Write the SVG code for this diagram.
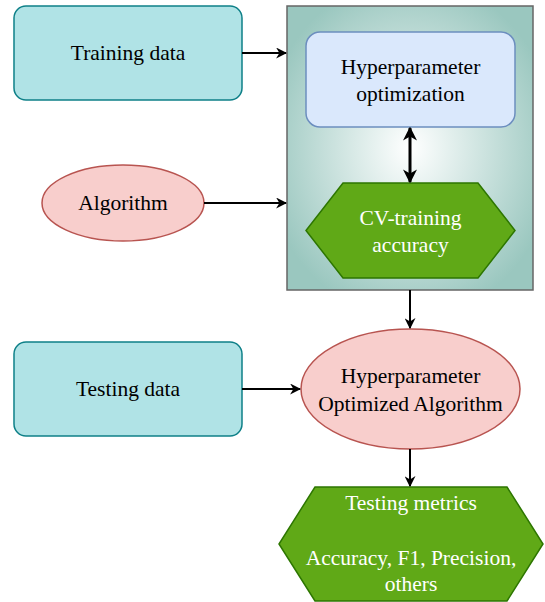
<svg xmlns="http://www.w3.org/2000/svg" width="545" height="602" viewBox="0 0 545 602">
<defs>
<radialGradient id="bg" cx="50%" cy="50%" r="60%">
<stop offset="0" stop-color="#ffffff"/>
<stop offset="1" stop-color="#9ac7bf"/>
</radialGradient>
<marker id="ah" viewBox="0 0 10 10" refX="9" refY="5" markerWidth="11" markerHeight="11" markerUnits="userSpaceOnUse" orient="auto-start-reverse">
<path d="M0,0 L10,5 L0,10 L3,5 Z" fill="#000"/>
</marker>
<marker id="ah2" viewBox="0 0 10 10" refX="9" refY="5" markerWidth="14" markerHeight="14" markerUnits="userSpaceOnUse" orient="auto-start-reverse">
<path d="M0,0 L10,5 L0,10 L3,5 Z" fill="#000"/>
</marker>
</defs>
<g id="container">
<rect x="287" y="6" width="246" height="284" fill="url(#bg)" stroke="#666666" stroke-width="1.5"/>
</g>
<g font-family="Times New Roman, Liberation Serif, serif" font-size="21.5" text-anchor="middle">
<g id="training-data">
<rect x="14" y="6" width="228" height="94" rx="12" fill="#b0e3e6" stroke="#0e8088" stroke-width="1.5"/>
<text x="128" y="60" fill="#000">Training data</text>
</g>
<g id="algorithm">
<ellipse cx="123" cy="203" rx="81" ry="38" fill="#f8cecc" stroke="#b85450" stroke-width="1.5"/>
<text x="123" y="210" fill="#000">Algorithm</text>
</g>
<g id="hyper-opt">
<rect x="306" y="32" width="209" height="95" rx="14" fill="#dae8fc" stroke="#6c8ebf" stroke-width="1.5"/>
<text x="410.5" y="74" fill="#000">Hyperparameter</text>
<text x="410.5" y="101" fill="#000">optimization</text>
</g>
<g id="cv-training">
<polygon points="343,183 478,183 515,230.5 478,278 343,278 306,230.5" fill="#60a917" stroke="#2d7600" stroke-width="1.5"/>
<text x="410.5" y="225" fill="#ffffff">CV-training</text>
<text x="410.5" y="252" fill="#ffffff">accuracy</text>
</g>
<g id="testing-data">
<rect x="14" y="342" width="228" height="94" rx="12" fill="#b0e3e6" stroke="#0e8088" stroke-width="1.5"/>
<text x="128" y="396" fill="#000">Testing data</text>
</g>
<g id="hpo-algorithm">
<ellipse cx="410.5" cy="389" rx="109.5" ry="60" fill="#f8cecc" stroke="#b85450" stroke-width="1.5"/>
<text x="410.5" y="383" fill="#000">Hyperparameter</text>
<text x="410.5" y="411" fill="#000">Optimized Algorithm</text>
</g>
<g id="testing-metrics">
<polygon points="315,487 507,487 543,544 507,601 315,601 279,544" fill="#60a917" stroke="#2d7600" stroke-width="1.5"/>
<text x="411" y="510" fill="#ffffff">Testing metrics</text>
<text x="411" y="565" fill="#ffffff">Accuracy, F1, Precision,</text>
<text x="411" y="591" fill="#ffffff">others</text>
</g>
</g>
<g id="connectors" stroke="#000" stroke-width="2" fill="none">
<line x1="242" y1="53" x2="286" y2="53" marker-end="url(#ah)"/>
<line x1="204" y1="203" x2="286" y2="203" marker-end="url(#ah)"/>
<line x1="410" y1="128" x2="410" y2="182" stroke-width="3" marker-start="url(#ah2)" marker-end="url(#ah2)"/>
<line x1="410" y1="290" x2="410" y2="328" marker-end="url(#ah)"/>
<line x1="242" y1="389" x2="300" y2="389" marker-end="url(#ah)"/>
<line x1="410" y1="449" x2="410" y2="486" marker-end="url(#ah)"/>
</g>
</svg>
